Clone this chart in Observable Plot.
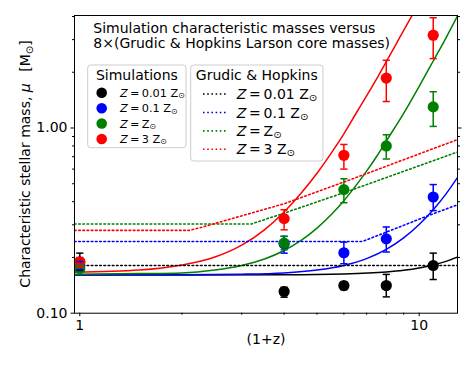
<!DOCTYPE html>
<html><head><meta charset="utf-8">
<script src="https://cdn.jsdelivr.net/npm/d3@7"></script>
<script src="https://cdn.jsdelivr.net/npm/@observablehq/plot@0.6"></script>
<style>
body{margin:0;background:#fff}
#chart{position:relative;width:463px;height:367px}
</style>
</head><body><div id="chart"></div>
<script>
// ---- data ----
const seriesKeys = ["0.01", "0.1", "1", "3"];
const seriesLabels = ["0.01 Z", "0.1 Z", "Z", "3 Z"];
const redshiftX = [1, 4, 6, 8, 11];

// simulation characteristic masses and error ranges
const muZ001 = [0.189, 0.131, 0.141, 0.141, 0.181];
const loZ001 = [0.170, 0.122, 0.134, 0.1225, 0.152];
const hiZ001 = [0.211, 0.138, 0.147, 0.162, 0.211];
const muZ01 = [0.181, 0.237, 0.212, 0.252, 0.424];
const loZ01 = [0.172, 0.211, 0.185, 0.214, 0.358];
const hiZ01 = [0.190, 0.260, 0.242, 0.292, 0.495];
const muZ1 = [0.174, 0.239, 0.465, 0.80, 1.30];
const loZ1 = [0.166, 0.220, 0.395, 0.68, 1.02];
const hiZ1 = [0.183, 0.260, 0.532, 0.919, 1.57];
const muZ3 = [0.189, 0.324, 0.712, 1.86, 3.17];
const loZ3 = [0.178, 0.282, 0.600, 1.39, 2.37];
const hiZ3 = [0.200, 0.362, 0.815, 2.32, 3.94];

// fitted curves (solid)
const fitX_Z001 = [0.9647, 2, 4, 6, 8, 9, 10, 11, 12, 12.97];
const fitY_Z001 = [0.161, 0.161, 0.1614, 0.163, 0.167, 0.1706, 0.1755, 0.182, 0.1905, 0.201];
const fitX_Z01 = [0.9647, 2, 3, 4, 5, 6, 7, 8, 9, 10, 11, 12, 12.97];
const fitY_Z01 = [0.161, 0.1613, 0.1624, 0.165, 0.171, 0.181, 0.197, 0.221, 0.255, 0.301, 0.362, 0.441, 0.54];
const fitX_Z1 = [0.9647, 1.5, 2, 2.5, 3, 3.5, 4, 4.5, 5, 5.5, 6, 6.5, 7, 7.5, 8, 9, 10, 11, 12, 13];
const fitY_Z1 = [0.1625, 0.1637, 0.165, 0.171, 0.181, 0.196, 0.218, 0.248, 0.288, 0.34, 0.405, 0.487, 0.585, 0.704, 0.85, 1.20, 1.68, 2.30, 3.07, 4.06];
const fitX_Z3 = [0.9647, 1.5, 2, 2.5, 3, 3.5, 4, 4.5, 5, 5.5, 6, 6.5, 7, 7.5, 8, 8.8, 9.6];
const fitY_Z3 = [0.1666, 0.171, 0.182, 0.201, 0.233, 0.282, 0.352, 0.447, 0.57, 0.73, 0.93, 1.19, 1.49, 1.85, 2.28, 3.12, 4.15];

// Grudic & Hopkins (dotted)
const ghX_Z001 = [0.9647, 12.97];
const ghY_Z001 = [0.181, 0.181];
const ghX_Z01 = [0.9647, 6.8, 8, 10.8, 12.97];
const ghY_Z01 = [0.244, 0.244, 0.274, 0.34, 0.385];
const ghX_Z1 = [0.9647, 3.2, 4, 6.27, 12.97];
const ghY_Z1 = [0.303, 0.303, 0.347, 0.46, 0.742];
const ghX_Z3 = [0.9647, 2.1, 2.27, 4, 6.27, 12.97];
const ghY_Z3 = [0.28, 0.28, 0.29, 0.39, 0.526, 0.866];

// tick values
const xMajorTicks = [1, 10];
const xMinorTicks = [2, 3, 4, 5, 6, 7, 8, 9];
const yMajorTicks = [0.1, 1];
const yMinorTicks = [0.2, 0.3, 0.4, 0.5, 0.6, 0.7, 0.8, 0.9, 2, 3, 4];

// ---- build tables ----
const muArr = [muZ001, muZ01, muZ1, muZ3];
const loArr = [loZ001, loZ01, loZ1, loZ3];
const hiArr = [hiZ001, hiZ01, hiZ1, hiZ3];
const fitXs = [fitX_Z001, fitX_Z01, fitX_Z1, fitX_Z3];
const fitYs = [fitY_Z001, fitY_Z01, fitY_Z1, fitY_Z3];
const ghXs = [ghX_Z001, ghX_Z01, ghX_Z1, ghX_Z3];
const ghYs = [ghY_Z001, ghY_Z01, ghY_Z1, ghY_Z3];

const simRows = [], fitRows = [], ghRows = [];
seriesKeys.forEach((s, i) => {
  redshiftX.forEach((x, j) => simRows.push({s, x, mu: muArr[i][j], lo: loArr[i][j], hi: hiArr[i][j]}));
  fitXs[i].forEach((x, j) => fitRows.push({s, x, y: fitYs[i][j]}));
  ghXs[i].forEach((x, j) => ghRows.push({s, x, y: ghYs[i][j]}));
});

const colors = ["#000000", "#0000ff", "#008000", "#ff0000"];
const capSymbol = {draw(ctx, size) { const r = Math.sqrt(size / Math.PI); ctx.moveTo(-r, 0); ctx.lineTo(r, 0); }};

const plot = Plot.plot({
  width: 463, height: 367,
  marginLeft: 74, marginRight: 6, marginTop: 15, marginBottom: 54.3,
  x: {type: "log", domain: [0.9647, 12.97]},
  y: {type: "log", domain: [0.1, 4.05]},
  color: {domain: seriesKeys, range: colors},
  style: {fontFamily: "DejaVu Sans", fontSize: "14px", background: "white", color: "black"},
  marks: [
    Plot.line(fitRows, {x: "x", y: "y", z: "s", stroke: "s", strokeWidth: 1.5, curve: "monotone-x", clip: true}),
    Plot.line(ghRows, {x: "x", y: "y", z: "s", stroke: "s", strokeWidth: 1.6, strokeDasharray: "1.6,2.6", clip: true}),
    Plot.dot(simRows, {x: "x", y: "mu", fill: "s", r: 5.6}),
    Plot.ruleX(simRows, {x: "x", y1: "lo", y2: "hi", stroke: "s", strokeWidth: 1.5}),
    Plot.dot(simRows, {x: "x", y: "hi", symbol: capSymbol, r: 3.6, stroke: "s", fill: "none", strokeWidth: 1.5}),
    Plot.dot(simRows, {x: "x", y: "lo", symbol: capSymbol, r: 3.6, stroke: "s", fill: "none", strokeWidth: 1.5}),
    Plot.axisX({ticks: xMajorTicks, tickFormat: d => String(d), tickSize: 3.5, tickPadding: 3, label: null, fontSize: 14}),
    Plot.axisX({ticks: xMinorTicks, tickFormat: () => "", tickSize: 2, label: null}),
    Plot.axisY({ticks: yMajorTicks, tickFormat: d3.format(".2f"), tickSize: 3.5, tickPadding: 3.5, label: null, fontSize: 14}),
    Plot.axisY({ticks: yMinorTicks, tickFormat: () => "", tickSize: 2, label: null}),
    Plot.axisY({anchor: "right", ticks: [1], tickFormat: () => "", tickSize: 3.5, label: null}),
    Plot.axisY({anchor: "right", ticks: yMinorTicks, tickFormat: () => "", tickSize: 2, label: null}),
    Plot.text(["(1+z)"], {frameAnchor: "bottom", dy: 30.5, fontSize: 14}),
    Plot.frame({stroke: "black", strokeWidth: 1})
  ]
});
document.getElementById("chart").appendChild(plot);

// ---- annotations (labels, title, legends) ----
const svg = d3.select(plot);
const F = "DejaVu Sans";

// y label
const yl = svg.append("text").attr("transform", "translate(30,164) rotate(-90)")
  .attr("text-anchor", "middle").attr("font-family", F).attr("font-size", 14).attr("fill", "black");
yl.append("tspan").text("Characteristic stellar mass, ");
yl.append("tspan").attr("font-style", "italic").text("μ");
yl.append("tspan").text("\u2002 [M");
yl.append("tspan").attr("font-size", 10).attr("dy", 3).text("⊙");
yl.append("tspan").attr("dy", -3).text("]");

// title
const titleLines = ["Simulation characteristic masses versus", "8×(Grudic & Hopkins Larson core masses)"];
titleLines.forEach((t, i) => svg.append("text").attr("x", 93.3).attr("y", 33.2 + i * 14.4)
  .attr("text-anchor", "start").attr("font-family", F).attr("font-size", 14).attr("fill", "black").text(t));

function zLabel(g, x, y, lab, fs) {
  const t = g.append("text").attr("x", x).attr("y", y).attr("dominant-baseline", "central")
    .attr("text-anchor", "start").attr("font-family", F).attr("font-size", fs).attr("fill", "black");
  t.append("tspan").attr("font-style", "italic").text("Z");
  t.append("tspan").text("\u2009=\u2009" + lab);
  t.append("tspan").attr("font-size", fs * 0.7).attr("dy", fs * 0.22).text("⊙");
}

// legend 1: Simulations
const g1 = svg.append("g");
g1.append("rect").attr("x", 87.7).attr("y", 65).attr("width", 98.3).attr("height", 82.7).attr("rx", 3)
  .attr("fill", "white").attr("fill-opacity", 0.8).attr("stroke", "#cccccc");
g1.append("text").attr("x", 136.9).attr("y", 80).attr("text-anchor", "middle")
  .attr("font-family", F).attr("font-size", 14).attr("fill", "black").text("Simulations");
const l1y = [92.7, 108.3, 123.5, 139];
seriesKeys.forEach((s, i) => {
  g1.append("circle").attr("cx", 101.7).attr("cy", l1y[i]).attr("r", 5.3).attr("fill", colors[i]);
  zLabel(g1, 120, l1y[i], seriesLabels[i], 11.3);
});

// legend 2: Grudic & Hopkins
const g2 = svg.append("g");
g2.append("rect").attr("x", 190.7).attr("y", 65).attr("width", 132.3).attr("height", 96).attr("rx", 3)
  .attr("fill", "white").attr("fill-opacity", 0.8).attr("stroke", "#cccccc");
g2.append("text").attr("x", 256.8).attr("y", 80).attr("text-anchor", "middle")
  .attr("font-family", F).attr("font-size", 14).attr("fill", "black").text("Grudic & Hopkins");
const l2y = [94, 112.5, 130.9, 149.3];
seriesKeys.forEach((s, i) => {
  g2.append("line").attr("x1", 203).attr("x2", 228).attr("y1", l2y[i]).attr("y2", l2y[i])
    .attr("stroke", colors[i]).attr("stroke-width", 1.6).attr("stroke-dasharray", "1.6,2.6");
  zLabel(g2, 236.7, l2y[i], seriesLabels[i], 14);
});
</script>
</body></html>
